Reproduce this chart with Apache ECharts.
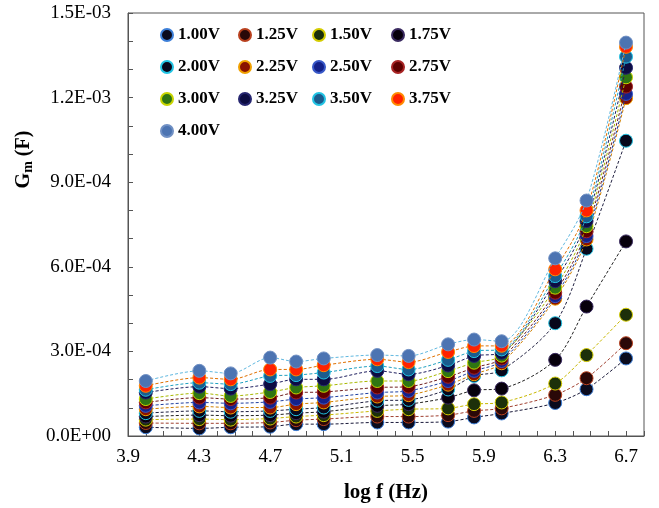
<!DOCTYPE html>
<html>
<head>
<meta charset="utf-8">
<script src="https://cdn.jsdelivr.net/npm/echarts@6/dist/echarts.min.js"></script>
<style>
html,body{margin:0;padding:0;background:#fff;}
#chart{width:659px;height:508px;}
</style>
</head>
<body>
<div id="chart"></div>
<script>
// log f (Hz) of the measured frequencies
const logF = [4.0, 4.301, 4.477, 4.699, 4.845, 5.0, 5.301, 5.477, 5.699, 5.845, 6.0, 6.301, 6.477, 6.699];
// Gm values in units of 1E-04 F
const v100 = [0.31, 0.27, 0.31, 0.33, 0.42, 0.42, 0.48, 0.48, 0.51, 0.66, 0.80, 1.17, 1.66, 2.75];
const v125 = [0.46, 0.45, 0.45, 0.48, 0.56, 0.60, 0.69, 0.69, 0.74, 0.89, 0.98, 1.46, 2.05, 3.29];
const v150 = [0.58, 0.60, 0.58, 0.62, 0.69, 0.74, 0.89, 0.95, 0.98, 1.13, 1.19, 1.86, 2.87, 4.30];
const v175 = [0.69, 0.74, 0.72, 0.74, 0.81, 0.86, 1.07, 1.13, 1.36, 1.62, 1.68, 2.70, 4.59, 6.90];
const v200 = [0.81, 0.89, 0.86, 0.89, 0.95, 1.01, 1.25, 1.28, 1.65, 2.13, 2.33, 4.00, 6.64, 10.47];
const v225 = [0.95, 1.05, 1.01, 1.01, 1.13, 1.19, 1.40, 1.45, 1.82, 2.19, 2.58, 4.87, 6.97, 11.98];
const v250 = [1.07, 1.19, 1.16, 1.21, 1.31, 1.36, 1.54, 1.60, 1.95, 2.31, 2.66, 4.96, 7.09, 12.13];
const v275 = [1.19, 1.36, 1.31, 1.36, 1.54, 1.56, 1.72, 1.75, 2.10, 2.42, 2.75, 5.08, 7.26, 12.39];
const v300 = [1.31, 1.52, 1.42, 1.56, 1.72, 1.78, 1.95, 1.95, 2.30, 2.60, 2.85, 5.26, 7.44, 12.72];
const v325 = [1.54, 1.75, 1.68, 1.84, 2.01, 2.01, 2.31, 2.19, 2.50, 2.84, 2.95, 5.49, 7.62, 13.06];
const v350 = [1.64, 1.89, 1.84, 2.13, 2.16, 2.25, 2.48, 2.36, 2.70, 3.01, 3.07, 5.67, 7.79, 13.45];
const v375 = [1.78, 2.07, 2.01, 2.36, 2.36, 2.51, 2.72, 2.62, 2.98, 3.19, 3.20, 5.91, 8.00, 13.80];
const v400 = [1.95, 2.31, 2.22, 2.78, 2.64, 2.75, 2.87, 2.84, 3.25, 3.42, 3.36, 6.30, 8.35, 13.95];

const seriesNames = ['1.00V','1.25V','1.50V','1.75V','2.00V','2.25V','2.50V','2.75V','3.00V','3.25V','3.50V','3.75V','4.00V'];
const seriesValues = [v100, v125, v150, v175, v200, v225, v250, v275, v300, v325, v350, v375, v400];

const xTickLabels = ['3.9','4.3','4.7','5.1','5.5','5.9','6.3','6.7'];
const yTickLabels = ['0.0E+00','3.0E-04','6.0E-04','9.0E-04','1.2E-03','1.5E-03'];

// styles
const fills   = ['#0b0b1e','#2a0808','#1c300a','#07000c','#08081c','#8a1200','#14218a','#5e0000','#2f7512','#0c0c42','#1b5c8e','#ff2200','#4c74b2'];
const borders = ['#3d7fd8','#b8401e','#d4cc00','#3a2a60','#22c4e4','#f0a000','#3858c8','#a82424','#c8d400','#262670','#22c4e4','#ff8a00','#7090c4'];
const lineCols= ['#1a1a3a','#a04030','#c8b800','#222222','#202040','#d08000','#2040a0','#702020','#a8b800','#202060','#20a0c0','#e07000','#60b8e0'];

const serif = 'Liberation Serif';

const series = seriesNames.map((name, i) => ({
  name: name,
  type: 'line',
  data: logF.map((x, j) => [x, seriesValues[i][j]]),
  smooth: 0.3,
  symbol: 'circle',
  symbolSize: 13,
  showAllSymbol: true,
  lineStyle: { color: lineCols[i], width: 1, type: [3, 2] },
  itemStyle: { color: fills[i], borderColor: borders[i], borderWidth: 1 },
  emphasis: { disabled: true },
  z: 2 + i
}));

const legendCols = [
  ['1.00V','2.00V','3.00V','4.00V'],
  ['1.25V','2.25V','3.25V'],
  ['1.50V','2.50V','3.50V'],
  ['1.75V','2.75V','3.75V']
];
const legendLeft = [160, 238, 312, 391];
const legends = legendCols.map((d, k) => ({
  data: d,
  orient: 'vertical',
  left: legendLeft[k],
  top: 26,
  icon: 'circle',
  itemWidth: 12,
  itemHeight: 12,
  itemGap: 14,
  padding: 0,
  selectedMode: false,
  textStyle: { fontFamily: serif, fontWeight: 'bold', fontSize: 17, color: '#000', lineHeight: 18 }
}));

const chart = echarts.init(document.getElementById('chart'));
chart.setOption({
  animation: false,
  backgroundColor: '#fff',
  grid: { left: 128, right: 15, top: 13, bottom: 71, show: true, borderColor: '#555', borderWidth: 1 },
  legend: legends,
  xAxis: {
    type: 'value', min: 3.9, max: 6.8, interval: 0.1,
    name: 'log f (Hz)', nameLocation: 'middle', nameGap: 46,
    nameTextStyle: { fontFamily: serif, fontWeight: 'bold', fontSize: 21, color: '#000' },
    axisLine: { show: true, lineStyle: { color: '#555', width: 1 } },
    axisTick: { show: true, inside: true, length: 5, lineStyle: { color: '#555' } },
    splitLine: { show: false },
    axisLabel: {
      fontFamily: serif, fontSize: 19, color: '#000', margin: 12,
      formatter: function (v) {
        const k = Math.round((v - 3.9) * 10);
        return (k % 4 === 0) ? (xTickLabels[k / 4] || '') : '';
      }
    }
  },
  yAxis: {
    type: 'value', min: 0, max: 15, interval: 1,
    name: '{g|G}{s|m}{g| (F)}', nameLocation: 'middle', nameRotate: 90, nameGap: 86,
    nameTextStyle: {
      padding: [0, 0, 0, 130],
      rich: {
        g: { fontFamily: serif, fontWeight: 'bold', fontSize: 20, color: '#000' },
        s: { fontFamily: serif, fontWeight: 'bold', fontSize: 14, color: '#000', verticalAlign: 'bottom', padding: [8, 0, 0, 0] }
      }
    },
    axisLine: { show: true, lineStyle: { color: '#555', width: 1 } },
    axisTick: { show: true, inside: true, length: 5, lineStyle: { color: '#555' } },
    splitLine: { show: false },
    axisLabel: {
      fontFamily: serif, fontSize: 19, color: '#000', margin: 17,
      formatter: function (v) {
        const k = Math.round(v);
        return (k % 3 === 0) ? (yTickLabels[k / 3] || '') : '';
      }
    }
  },
  series: series
});
</script>
</body>
</html>
